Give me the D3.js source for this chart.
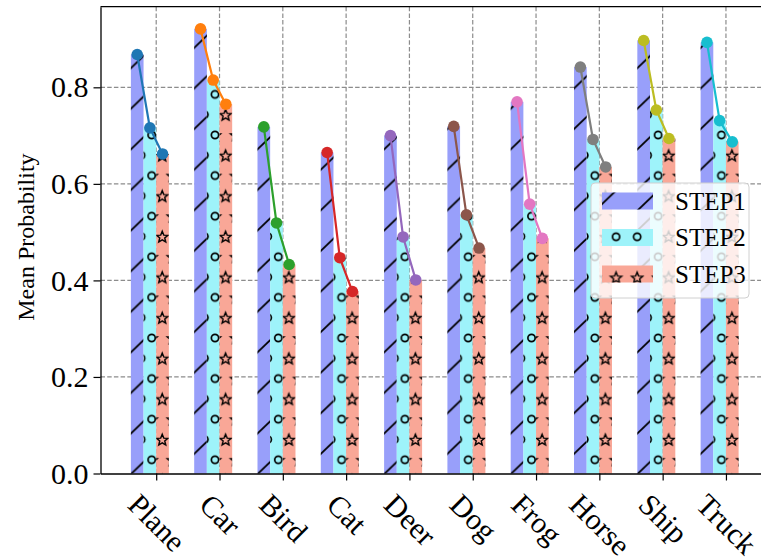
<!DOCTYPE html>
<html>
<head>
<meta charset="utf-8">
<script src="https://cdn.jsdelivr.net/npm/d3@7"></script>
<style>
  body { margin: 0; background: #fff; }
  svg { display: block; font-family: "Liberation Serif", "Times New Roman", serif; }
</style>
</head>
<body>
<script>
// values
const categories = ['Plane', 'Car', 'Bird', 'Cat', 'Deer', 'Dog', 'Frog', 'Horse', 'Ship', 'Truck']
const step1 = [0.868, 0.921, 0.718, 0.665, 0.700, 0.719, 0.770, 0.842, 0.897, 0.893]
const step2 = [0.716, 0.815, 0.519, 0.447, 0.490, 0.536, 0.558, 0.692, 0.753, 0.731]
const step3 = [0.662, 0.765, 0.433, 0.377, 0.401, 0.467, 0.487, 0.635, 0.694, 0.687]
const seriesNames = ['STEP1', 'STEP2', 'STEP3']
const yTicks = [0.0, 0.2, 0.4, 0.6, 0.8]

const lineColors = ['#1f77b4', '#ff7f0e', '#2ca02c', '#d62728', '#9467bd',
                    '#8c564b', '#e377c2', '#7f7f7f', '#bcbd22', '#17becf']
const barColors = ['#989ffa', '#9ef3fa', '#f9a797']
const hatches = ['hatch-slash', 'hatch-circle', 'hatch-star']

const W = 761, H = 559
const barW = 0.2

const svg = d3.select('body').append('svg')
    .attr('width', W)
    .attr('height', H)

const x = d3.scaleLinear().domain([-0.88, 9.68]).range([100.5, 769])
const y = d3.scaleLinear().domain([0, 0.967]).range([473.5, 6.7])

const plotLeft = x.range()[0], plotRight = x.range()[1]
const plotTop = y.range()[1], plotBottom = y.range()[0]

// hatch tiles, anchored to the page like matplotlib does
const cell = (x(1) - x(0)) / 3
const tw = 2 * cell, th = 40.6
const defs = svg.append('defs')

const slash = defs.append('pattern').attr('id', 'hatch-slash')
    .attr('patternUnits', 'userSpaceOnUse')
    .attr('x', 215).attr('y', 135).attr('width', tw).attr('height', th)
const f = 0.36
for (let n = -1; n <= 2; n++) {
    slash.append('line')
        .attr('x1', -tw).attr('y1', (f + n + 1) * th)
        .attr('x2', 2 * tw).attr('y2', (f + n - 2) * th)
        .attr('stroke', '#000').attr('stroke-width', 1.8)
}

const lattice = [[0, 0], [tw / 2, 0], [tw, 0], [0, th], [tw / 2, th], [tw, th],
                 [tw / 4, th / 2], [3 * tw / 4, th / 2]]

const circ = defs.append('pattern').attr('id', 'hatch-circle')
    .attr('patternUnits', 'userSpaceOnUse')
    .attr('x', 215).attr('y', 135).attr('width', tw).attr('height', th)
lattice.forEach(p => {
    circ.append('circle').attr('cx', p[0]).attr('cy', p[1]).attr('r', 3.6)
        .attr('fill', 'none').attr('stroke', '#000').attr('stroke-width', 1.7)
})

const starPts = d3.range(10).map(k => {
    const a = -Math.PI / 2 + k * Math.PI / 5
    const r = k % 2 === 0 ? 5.9 : 2.6
    return [r * Math.cos(a), r * Math.sin(a) + 0.7]
})
const star = defs.append('pattern').attr('id', 'hatch-star')
    .attr('patternUnits', 'userSpaceOnUse')
    .attr('x', 215).attr('y', 135).attr('width', tw).attr('height', th)
lattice.forEach(p => {
    star.append('polygon')
        .attr('points', starPts.map(s => [s[0] + p[0], s[1] + p[1]].join(',')).join(' '))
        .attr('fill', 'none').attr('stroke', '#000').attr('stroke-width', 1.4)
        .attr('stroke-linejoin', 'miter')
})

// grid
const grid = svg.append('g')
grid.selectAll('.hgrid').data(yTicks.slice(1)).enter().append('line')
    .attr('x1', plotLeft).attr('x2', plotRight)
    .attr('y1', d => y(d)).attr('y2', d => y(d))
grid.selectAll('.vgrid').data(d3.range(categories.length)).enter().append('line')
    .attr('x1', d => x(d)).attr('x2', d => x(d))
    .attr('y1', plotTop).attr('y2', plotBottom)
grid.selectAll('line')
    .attr('stroke', '#8c8c8c').attr('stroke-width', 1.2)
    .attr('stroke-dasharray', '4.5,2.2')

// bars
const series = [step1, step2, step3]
const offsets = [-0.4, -0.2, 0]
series.forEach((vals, s) => {
    const g = svg.append('g')
    const rows = vals.map((v, i) => ({ i: i, v: v }))
    g.selectAll('rect.fill').data(rows).enter().append('rect')
        .attr('x', d => x(d.i + offsets[s]))
        .attr('width', d => x(d.i + offsets[s] + barW) - x(d.i + offsets[s]))
        .attr('y', d => y(d.v))
        .attr('height', d => y(0) - y(d.v))
        .attr('fill', barColors[s])
    g.selectAll('rect.hatch').data(rows).enter().append('rect')
        .attr('x', d => x(d.i + offsets[s]))
        .attr('width', d => x(d.i + offsets[s] + barW) - x(d.i + offsets[s]))
        .attr('y', d => y(d.v))
        .attr('height', d => y(0) - y(d.v))
        .attr('fill', 'url(#' + hatches[s] + ')')
})

// per-class lines through the three steps
const line = d3.line().x(d => x(d[0])).y(d => y(d[1]))
categories.forEach((c, i) => {
    const pts = [[i - 0.3, step1[i]], [i - 0.1, step2[i]], [i + 0.1, step3[i]]]
    const g = svg.append('g')
    g.append('path').datum(pts)
        .attr('d', line)
        .attr('fill', 'none')
        .attr('stroke', lineColors[i])
        .attr('stroke-width', 2.2)
    g.selectAll('circle').data(pts).enter().append('circle')
        .attr('cx', d => x(d[0])).attr('cy', d => y(d[1]))
        .attr('r', 5.8)
        .attr('fill', lineColors[i])
})

// axes
const yAxis = svg.append('g')
    .attr('transform', 'translate(' + plotLeft + ',0)')
    .call(d3.axisLeft(y).tickValues(yTicks).tickFormat(d3.format('.1f')).tickSize(7).tickSizeOuter(0).tickPadding(5))
yAxis.selectAll('text').attr('font-size', 30).attr('fill', '#000')
yAxis.attr('font-family', null).attr('font-size', null)

const xAxis = svg.append('g')
    .attr('transform', 'translate(0,' + plotBottom + ')')
    .call(d3.axisBottom(x).tickValues(d3.range(categories.length)).tickFormat(i => categories[i]).tickSize(7).tickSizeOuter(0))
xAxis.attr('font-family', null).attr('font-size', null)
xAxis.selectAll('.tick text').remove()
xAxis.selectAll('.tick').append('text')
    .attr('font-size', 30)
    .attr('fill', '#000')
    .attr('text-anchor', 'middle')
    .attr('dy', '0.33em')
    .text(i => categories[i])
    .each(function() {
        const L = this.getComputedTextLength()
        const h = 30 * 1.12
        const half = (L + h) / (2 * Math.SQRT2)
        d3.select(this).attr('transform', 'translate(0,' + (14 + half) + ') rotate(45)')
    })

svg.selectAll('.domain').attr('stroke', '#000').attr('stroke-width', 1.3)
svg.selectAll('.tick line').attr('stroke', '#000').attr('stroke-width', 1.2)
svg.append('line').attr('x1', plotLeft).attr('x2', plotRight).attr('y1', plotTop).attr('y2', plotTop)
    .attr('stroke', '#000').attr('stroke-width', 1.3)
svg.append('line').attr('x1', plotRight).attr('x2', plotRight).attr('y1', plotTop).attr('y2', plotBottom)
    .attr('stroke', '#000').attr('stroke-width', 1.3)

svg.append('text')
    .attr('transform', 'translate(34,' + ((plotTop + plotBottom) / 2 - 3) + ') rotate(-90)')
    .attr('text-anchor', 'middle')
    .attr('font-size', 24)
    .text('Mean Probability')

// legend
const legend = svg.append('g').attr('transform', 'translate(591,183)')
legend.append('rect')
    .attr('width', 158).attr('height', 115).attr('rx', 4)
    .attr('fill', '#fff').attr('fill-opacity', 0.8)
    .attr('stroke', '#d0d0d0').attr('stroke-width', 1)
seriesNames.forEach((name, s) => {
    const cy = 18 + s * 36.5
    legend.append('rect').attr('x', 11).attr('y', cy - 8.5).attr('width', 51).attr('height', 17)
        .attr('fill', barColors[s])
    legend.append('rect').attr('x', 11).attr('y', cy - 8.5).attr('width', 51).attr('height', 17)
        .attr('fill', 'url(#' + hatches[s] + ')')
    legend.append('text').attr('x', 84).attr('y', cy + 8.6)
        .attr('font-size', 25)
        .text(name)
})
</script>
</body>
</html>
